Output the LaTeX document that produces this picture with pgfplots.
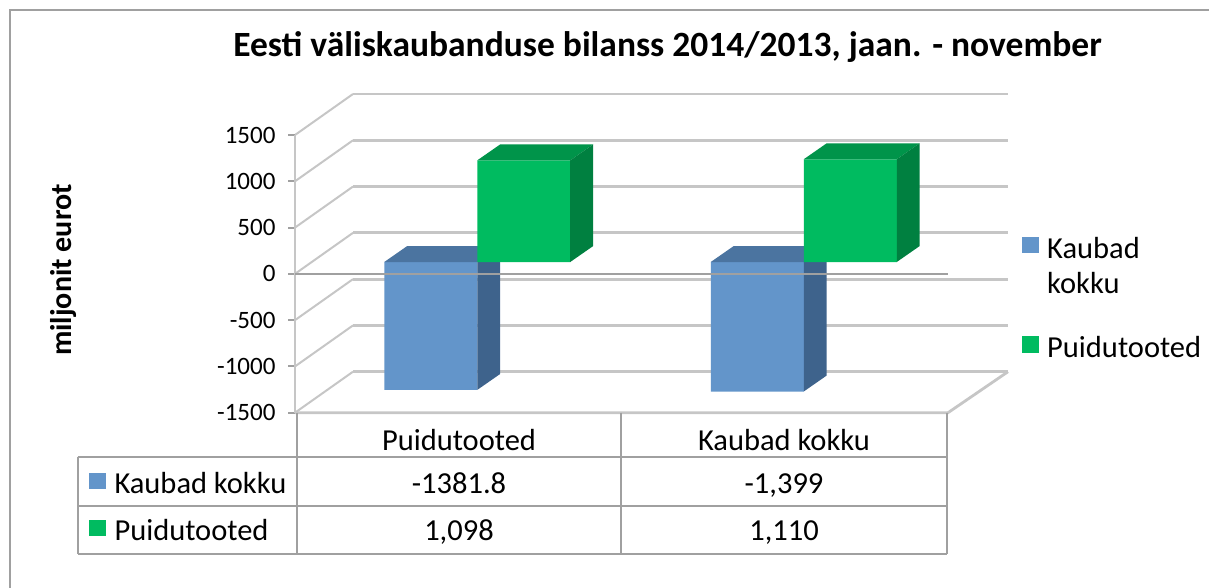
\documentclass[border=0pt]{standalone}
\usepackage{fontspec}
\setmainfont{Carlito}
\usepackage{pgfplots}
\pgfplotsset{compat=1.18}
\definecolor{bfront}{RGB}{99,149,202}
\definecolor{bside}{RGB}{62,99,140}
\definecolor{btop}{RGB}{75,116,160}
\definecolor{gfront}{RGB}{0,187,96}
\definecolor{gside}{RGB}{0,128,64}
\definecolor{gtop}{RGB}{0,148,74}
\definecolor{gridc}{RGB}{198,198,198}
\definecolor{axc}{RGB}{160,160,160}
\begin{document}
\begin{tikzpicture}
\path[use as bounding box] (0pt,0pt) rectangle (1209pt,-588pt);
\draw[axc, line width=2.5pt] (10pt,-600pt) -- (10pt,-10pt) -- (1215pt,-10pt);
% back wall
\begin{axis}[at={(353pt,-371.7pt)}, anchor=south west, scale only axis,
  width=655pt, height=277.7pt, xmin=0, xmax=2, ymin=-1500, ymax=1500,
  axis line style={draw=none}, tick style={draw=none}, xtick=\empty,
  ytick={-1500,-1000,-500,0,500,1000,1500}, yticklabels={},
  ymajorgrids, grid style={gridc, line width=2.8pt}]
\end{axis}
% side walls and floor
\begin{axis}[at={(295pt,-412.7pt)}, anchor=south west, scale only axis,
  width=653pt, height=277.7pt, xmin=0, xmax=2, ymin=-1500, ymax=1500,
  hide axis, clip=false]
\pgfplotsinvokeforeach{-1500,-1000,-500,0,500,1000,1500}{
  \draw[gridc, line width=2pt] (axis cs:0,#1) -- ++(58pt,41pt);
}
\draw[gridc, line width=2.8pt] (axis cs:0,-1500) -- (axis cs:2,-1500) -- ++(60pt,41pt);
\end{axis}
% bars
\begin{axis}[at={(314pt,-400.85pt)}, anchor=south west, scale only axis,
  width=653pt, height=277.7pt, xmin=0, xmax=2, ymin=-1500, ymax=1500,
  hide axis, clip=false]
\addplot[ybar, bar width=93pt, bar shift=-46.5pt, fill=bfront, draw=none] coordinates {(0.5,-1381.8) (1.5,-1399)};
\addplot[fill=btop, draw=none] coordinates {(0.2152,0) (0.2856,172.8) (0.5704,172.8) (0.5,0)};
\addplot[fill=bside, draw=none] coordinates {(0.5,0) (0.5704,172.8) (0.5704,-1209) (0.5,-1381.8)};
\addplot[fill=btop, draw=none] coordinates {(1.2152,0) (1.2856,172.8) (1.5704,172.8) (1.5,0)};
\addplot[fill=bside, draw=none] coordinates {(1.5,0) (1.5704,172.8) (1.5704,-1226.2) (1.5,-1399)};
\addplot[ybar, bar width=93pt, bar shift=46.5pt, fill=gfront, draw=none] coordinates {(0.5,1098) (1.5,1110)};
\addplot[fill=gtop, draw=none] coordinates {(0.5,1098) (0.5704,1270.8) (0.8552,1270.8) (0.7848,1098)};
\addplot[fill=gside, draw=none] coordinates {(0.7848,0) (0.8552,172.8) (0.8552,1270.8) (0.7848,1098)};
\addplot[fill=gtop, draw=none] coordinates {(1.5,1110) (1.5704,1282.8) (1.8552,1282.8) (1.7848,1110)};
\addplot[fill=gside, draw=none] coordinates {(1.7848,0) (1.8552,172.8) (1.8552,1282.8) (1.7848,1110)};
\end{axis}
% front axis
\begin{axis}[at={(295pt,-412.7pt)}, anchor=south west, scale only axis,
  width=653pt, height=277.7pt, xmin=0, xmax=2, ymin=-1500, ymax=1500,
  axis y line*=left, axis x line=none, clip=false,
  axis line style={gridc, line width=2.8pt},
  tick align=outside, major tick length=7pt,
  ytick style={axc, line width=2pt},
  ytick={-1500,-1000,-500,0,500,1000,1500},
  yticklabels={-1500,-1000,-500,0,500,1000,1500},
  yticklabel style={font=\fontsize{25}{25}\selectfont, text=black, xshift=-9pt}]
\draw[axc, line width=2.5pt] (axis cs:0,0) -- (axis cs:2,0);
\end{axis}
% title and y label
\node[font=\bfseries\fontsize{35.5}{40}\selectfont, anchor=base] at (667.5pt,-57pt) {Eesti väliskaubanduse bilanss 2014/2013, jaan. - november};
\node[rotate=90, font=\bfseries\fontsize{30}{30}\selectfont] at (64pt,-270pt) {miljonit eurot};
% legend
\fill[bfront] (1022pt,-237pt) rectangle (1039pt,-253pt);
\fill[gfront] (1022pt,-336pt) rectangle (1039pt,-353pt);
\node[font=\fontsize{30.5}{35}\selectfont, anchor=base west, inner sep=0pt] at (1047pt,-258pt) {Kaubad};
\node[font=\fontsize{30.5}{35}\selectfont, anchor=base west, inner sep=0pt] at (1047pt,-293pt) {kokku};
\node[font=\fontsize{30.5}{35}\selectfont, anchor=base west, inner sep=0pt] at (1047pt,-357pt) {Puidutooted};
% data table
\draw[axc, line width=2pt] (296.5pt,-412.7pt) -- (296.5pt,-554pt);
\draw[axc, line width=2pt] (621pt,-412.7pt) -- (621pt,-554pt);
\draw[axc, line width=2pt] (947pt,-412.7pt) -- (947pt,-554pt);
\draw[axc, line width=2pt] (77.5pt,-457pt) -- (947pt,-457pt);
\draw[axc, line width=2pt] (77.5pt,-506pt) -- (947pt,-506pt);
\draw[axc, line width=2pt] (77.5pt,-554pt) -- (947pt,-554pt);
\draw[axc, line width=2pt] (77.5pt,-457pt) -- (77.5pt,-554pt);
\begin{scope}[every node/.style={font=\fontsize{30.5}{35}\selectfont, anchor=base, inner sep=0pt}]
\node at (459pt,-450pt) {Puidutooted};
\node at (784pt,-450pt) {Kaubad kokku};
\node at (459pt,-493.3pt) {-1381.8};
\node at (784pt,-493.3pt) {-1,399};
\node at (459pt,-540pt) {1,098};
\node at (784pt,-540pt) {1,110};
\node[anchor=base west] at (114.3pt,-493.3pt) {Kaubad kokku};
\node[anchor=base west] at (114.3pt,-540pt) {Puidutooted};
\end{scope}
\fill[bfront] (89.3pt,-472.7pt) rectangle (105.7pt,-489.3pt);
\fill[gfront] (89.3pt,-519.5pt) rectangle (105.7pt,-536pt);
\end{tikzpicture}
\end{document}
